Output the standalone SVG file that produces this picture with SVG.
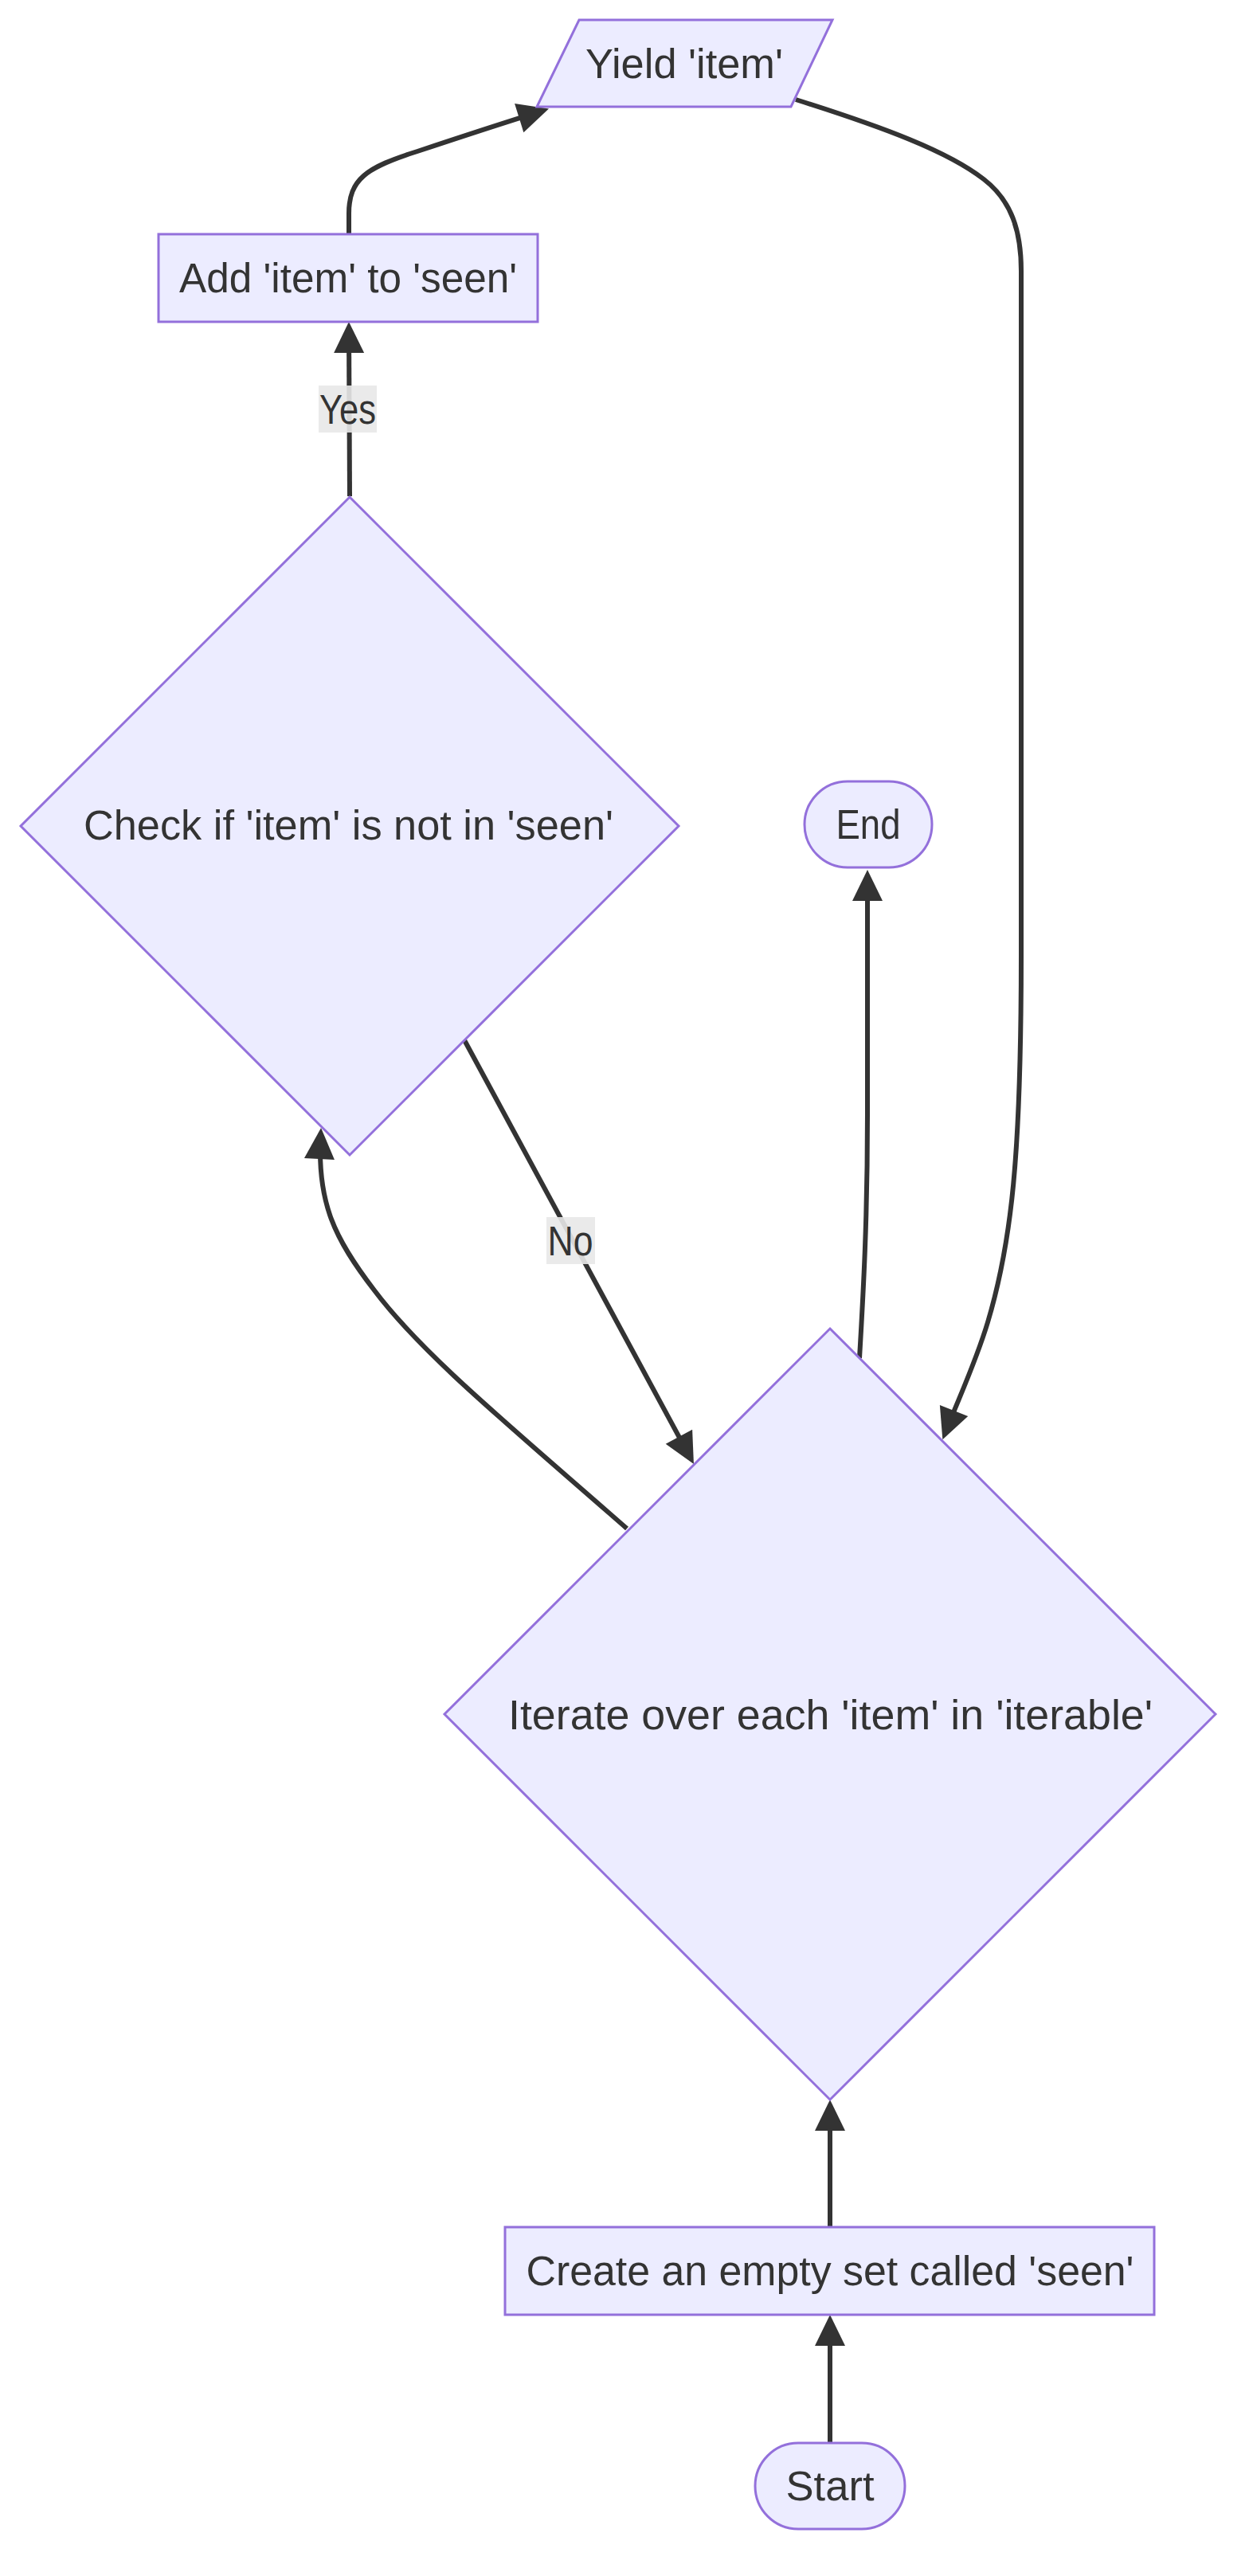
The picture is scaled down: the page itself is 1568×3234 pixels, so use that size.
<svg xmlns="http://www.w3.org/2000/svg" width="1568" height="3234" viewBox="0 0 1568 3234">
<style>
.node{fill:#ECECFF;stroke:#9370DB;stroke-width:3}
.lbl{font-family:"Trebuchet MS","Liberation Sans",Arial,sans-serif;font-size:51px;fill:#333333;text-anchor:middle}
.edge{fill:none;stroke:#333333;stroke-width:6}
.ebg{fill:#e8e8e8;opacity:0.9}
</style>
<defs>
<marker id="arr" markerUnits="userSpaceOnUse" markerWidth="44" markerHeight="44" viewBox="-42 -22 44 44" refX="-10" refY="0" orient="auto">
<path d="M-39,-19 L0,0 L-39,19 z" fill="#333333"/>
</marker>
</defs>
<rect width="1568" height="3234" fill="#ffffff"/>
<g id="edges">
<path class="edge" d="M1042,3066 L1042,2916" marker-end="url(#arr)"/>
<path class="edge" d="M1042,2796 L1042,2646" marker-end="url(#arr)"/>
<path class="edge" d="M787,1919 C640,1790 530,1700 470,1620 C420,1555 398,1510 402.5,1426" marker-end="url(#arr)"/>
<path class="edge" d="M582,1304 L866.2,1829.2" marker-end="url(#arr)"/>
<path class="edge" d="M439,623 L438,414" marker-end="url(#arr)"/>
<path class="edge" d="M438,294 L438,268 C438,225 460,210 524,190 C575,173 630,155 679.4,139.6" marker-end="url(#arr)"/>
<path class="edge" d="M999,125 C1110,160 1190,190 1235,225 C1270,252 1282,290 1282,340 L1282,1200 C1282,1450 1270,1560 1240,1660 C1225,1710 1205,1752 1187,1798" marker-end="url(#arr)"/>
<path class="edge" d="M1079,1705 C1084,1620 1089,1530 1089,1400 L1089,1102" marker-end="url(#arr)"/>
<g id="label-yes">
<rect class="ebg" x="400" y="484" width="73" height="59"/>
<text class="lbl" x="436.5" y="532" textLength="71" lengthAdjust="spacingAndGlyphs">Yes</text>
</g>
<g id="label-no">
<rect class="ebg" x="686" y="1528" width="61" height="59"/>
<text class="lbl" x="716" y="1576" textLength="57" lengthAdjust="spacingAndGlyphs">No</text>
</g>
</g>
<g id="node-yield">
<polygon class="node" points="727,25 1045,25 993,134 674,134"/>
<text class="lbl" x="859" y="98" textLength="248" lengthAdjust="spacingAndGlyphs">Yield 'item'</text>
</g>
<g id="node-add">
<rect class="node" x="199" y="294" width="476" height="110"/>
<text class="lbl" x="437" y="367" textLength="424" lengthAdjust="spacingAndGlyphs">Add 'item' to 'seen'</text>
</g>
<g id="node-check">
<polygon class="node" points="439,624 852,1037 439,1450 26,1037"/>
<text class="lbl" x="437.5" y="1054" textLength="665" lengthAdjust="spacingAndGlyphs">Check if 'item' is not in 'seen'</text>
</g>
<g id="node-end">
<rect class="node" x="1010" y="981" width="160" height="108" rx="54" ry="54"/>
<text class="lbl" x="1090" y="1053" textLength="81" lengthAdjust="spacingAndGlyphs">End</text>
</g>
<g id="node-iterate">
<polygon class="node" points="1042,1668 1526,2152 1042,2636 558,2152"/>
<text class="lbl" x="1042.5" y="2171" textLength="809" lengthAdjust="spacingAndGlyphs">Iterate over each 'item' in 'iterable'</text>
</g>
<g id="node-create">
<rect class="node" x="634" y="2796" width="815" height="110"/>
<text class="lbl" x="1042" y="2869" textLength="763" lengthAdjust="spacingAndGlyphs">Create an empty set called 'seen'</text>
</g>
<g id="node-start">
<rect class="node" x="948" y="3067" width="188" height="108" rx="54" ry="54"/>
<text class="lbl" x="1042" y="3139" textLength="111" lengthAdjust="spacingAndGlyphs">Start</text>
</g>
</svg>
